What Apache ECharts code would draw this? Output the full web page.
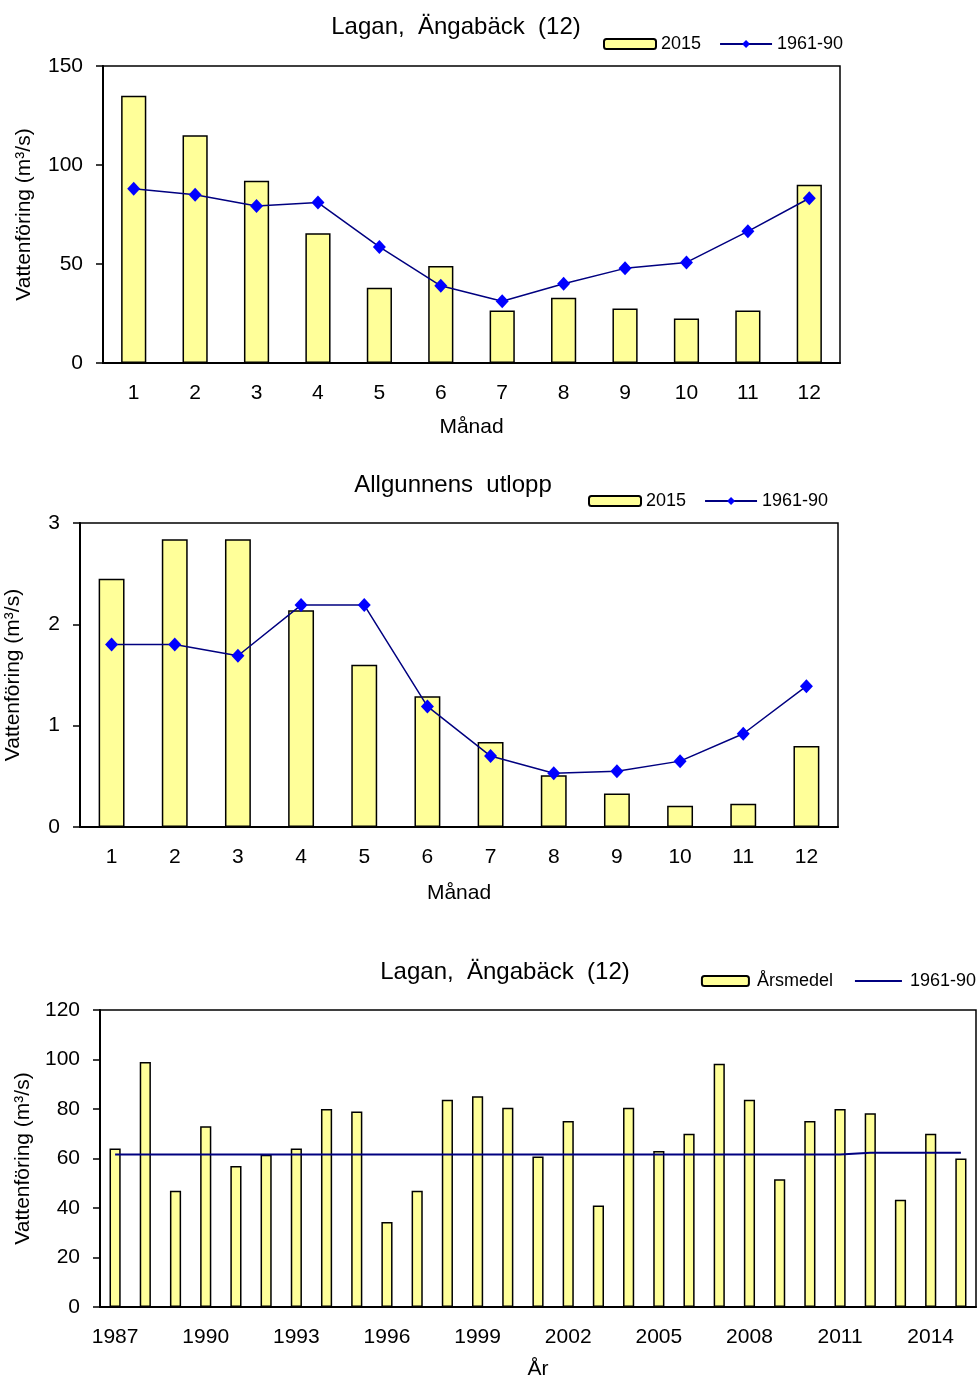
<!DOCTYPE html>
<html>
<head>
<meta charset="utf-8">
<script src="https://cdn.jsdelivr.net/npm/echarts@6/dist/echarts.min.js"></script>
<style>
  html, body { margin: 0; padding: 0; background: #fff; }
  .chart { width: 978px; position: absolute; left: 0; }
  #c1 { top: 0; height: 460px; }
  #c2 { top: 460px; height: 460px; }
  #c3 { top: 920px; height: 458px; }
</style>
</head>
<body>
<div id="c1" class="chart"></div>
<div id="c2" class="chart"></div>
<div id="c3" class="chart"></div>
<script>
// månader
const months = ['1', '2', '3', '4', '5', '6', '7', '8', '9', '10', '11', '12']

// Lagan, Ängabäck (12) – månadsmedel
const lagan2015 = [135, 115, 92, 65.5, 38, 49, 26.5, 33, 27.5, 22.5, 26.5, 90]
const lagan6190 = [88, 85, 79.3, 81, 58.6, 39, 31.2, 40, 47.8, 50.8, 66.5, 83.2]

// Allgunnens utlopp – månadsmedel
const allg2015 = [2.45, 2.84, 2.84, 2.14, 1.6, 1.29, 0.84, 0.51, 0.33, 0.21, 0.23, 0.8]
const allg6190 = [1.8, 1.8, 1.69, 2.19, 2.19, 1.19, 0.7, 0.53, 0.55, 0.65, 0.92, 1.39]

// Lagan, Ängabäck (12) – årsmedel
const years = ['1987', '1988', '1989', '1990', '1991', '1992', '1993', '1994', '1995', '1996',
  '1997', '1998', '1999', '2000', '2001', '2002', '2003', '2004', '2005', '2006',
  '2007', '2008', '2009', '2010', '2011', '2012', '2013', '2014', '2015']
const arsmedel = [64, 99, 47, 73, 57, 61.5, 64, 80, 79, 34.3, 47, 83.7, 85.2, 80.5, 60.8,
  75.2, 41, 80.5, 63, 70, 98.3, 83.7, 51.6, 75.2, 80, 78.3, 43.3, 70, 60]
const ref6190 = [61.6, 61.6, 61.6, 61.6, 61.6, 61.6, 61.6, 61.6, 61.6, 61.6, 61.6, 61.6, 61.6,
  61.6, 61.6, 61.6, 61.6, 61.6, 61.6, 61.6, 61.6, 61.6, 61.6, 61.6, 61.6, 62.3, 62.3, 62.3, 62.3]

const FONT = '"Liberation Sans", Arial, sans-serif'
const BAR_COLOR = '#ffff99'

const xAxes = (data, labelInterval, nameGap, name) => [
  {
    type: 'category',
    data: data,
    name: name,
    nameLocation: 'middle',
    nameGap: nameGap,
    nameTextStyle: { color: '#000', fontSize: 21, fontFamily: FONT },
    axisLine: { lineStyle: { color: '#000', width: 2 } },
    axisTick: { interval: 0, length: 5, lineStyle: { color: '#000', width: 1.5 } },
    axisLabel: { interval: labelInterval, color: '#000', fontSize: 21, fontFamily: FONT, margin: 20 },
  },
  {
    // inre tick-markeringar (korsande ticks)
    type: 'category',
    data: data,
    position: 'bottom',
    axisLine: { show: false },
    axisTick: { inside: true, interval: 0, length: 5, lineStyle: { color: '#000', width: 1.5 } },
    axisLabel: { show: false },
  },
]

const yAxis = (max, interval, nameGap) => ({
  type: 'value',
  min: 0,
  max: max,
  interval: interval,
  name: 'Vattenföring (m³/s)',
  nameLocation: 'middle',
  nameGap: nameGap,
  nameTextStyle: { color: '#000', fontSize: 21, fontFamily: FONT },
  axisLine: { show: true, lineStyle: { color: '#000', width: 2 } },
  axisTick: { show: true, length: 7, lineStyle: { color: '#000', width: 1.5 } },
  axisLabel: { color: '#000', fontSize: 21, fontFamily: FONT, margin: 20 },
  splitLine: { show: false },
})

const title = (text, x, y) => ({
  text: text,
  left: x,
  top: y,
  textAlign: 'center',
  textStyle: { color: '#000', fontSize: 24, fontWeight: 'normal', fontFamily: FONT },
})

const grid = (left, top, width, height) => ({
  left: left,
  top: top,
  width: width,
  height: height,
  outerBoundsMode: 'none',
  containLabel: false,
  show: true,
  borderColor: '#000',
  borderWidth: 1.5,
})

const legendStyle = {
  itemHeight: 10,
  textStyle: { color: '#000', fontSize: 18, fontFamily: FONT },
}

const barSeries = (name, data, width) => ({
  name: name,
  type: 'bar',
  data: data,
  barWidth: width,
  itemStyle: { color: BAR_COLOR, borderColor: '#000', borderWidth: 1.5 },
})

const lineSeries = (name, data) => ({
  name: name,
  type: 'line',
  data: data,
  symbol: 'diamond',
  symbolSize: [13, 14],
  lineStyle: { color: '#000080', width: 1.5 },
  itemStyle: { color: '#0000ff' },
})

const c1 = echarts.init(document.getElementById('c1'))
c1.setOption({
  animation: false,
  title: title('Lagan,  Ängabäck  (12)', 451, 10),
  legend: { ...legendStyle, left: 598, top: 30, itemGap: 18, itemWidth: 52, data: ['2015', '1961-90'] },
  grid: grid(103, 66, 737, 297),
  xAxis: xAxes(months, 0, 54, 'Månad'),
  yAxis: yAxis(150, 50, 68),
  series: [barSeries('2015', lagan2015, '41%'), lineSeries('1961-90', lagan6190)],
})

const c2 = echarts.init(document.getElementById('c2'))
c2.setOption({
  animation: false,
  title: title('Allgunnens  utlopp', 448, 8),
  legend: { ...legendStyle, left: 583, top: 27, itemGap: 18, itemWidth: 52, data: ['2015', '1961-90'] },
  grid: grid(80, 63, 758, 304),
  xAxis: xAxes(months, 0, 56, 'Månad'),
  yAxis: yAxis(3, 1, 56),
  series: [barSeries('2015', allg2015, '41%'), lineSeries('1961-90', allg6190)],
})

const c3 = echarts.init(document.getElementById('c3'))
c3.setOption({
  animation: false,
  title: title('Lagan,  Ängabäck  (12)', 500, 35),
  legend: {
    ...legendStyle,
    right: -3,
    top: 47,
    itemGap: 22,
    itemWidth: 47,
    textStyle: { ...legendStyle.textStyle, padding: [0, 0, 0, 3] },
    data: ['Årsmedel', { name: '1961-90', icon: 'path://M0,0H47V2H0Z' }],
  },
  grid: grid(100, 90, 876, 297),
  xAxis: xAxes(years, 2, 52, 'År'),
  yAxis: yAxis(120, 20, 56),
  series: [
    barSeries('Årsmedel', arsmedel, '37%'),
    {
      name: '1961-90',
      type: 'line',
      data: ref6190,
      symbol: 'none',
      lineStyle: { color: '#000080', width: 2 },
      itemStyle: { color: '#000080' },
    },
  ],
})
</script>
</body>
</html>
